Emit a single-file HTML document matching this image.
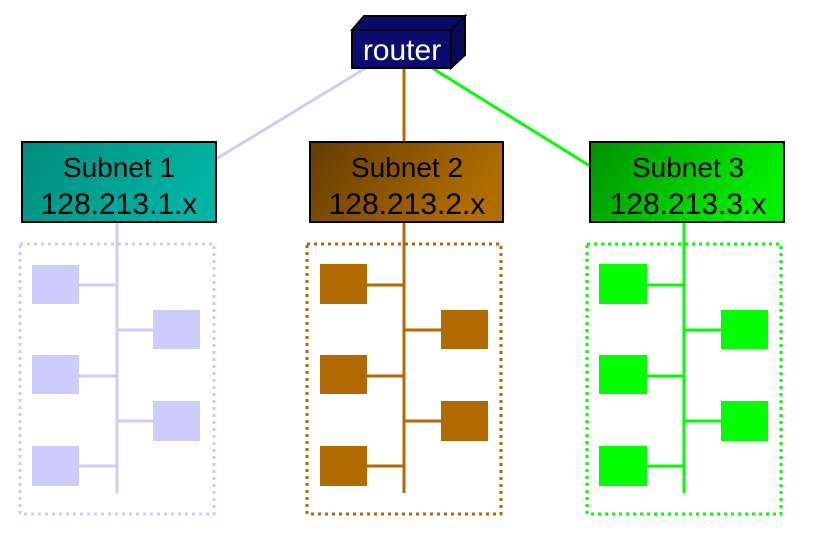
<!DOCTYPE html>
<html><head><style>body{margin:0;background:#fff}svg{display:block}</style></head><body>
<svg width="817" height="535" xmlns="http://www.w3.org/2000/svg" font-family="Liberation Sans, sans-serif">
<defs>
<linearGradient id="g1" x1="0" y1="0" x2="1" y2="0.3"><stop offset="0" stop-color="#008c7c"/><stop offset="1" stop-color="#00b4a4"/></linearGradient>
<linearGradient id="g2" x1="0" y1="0" x2="1" y2="0.3"><stop offset="0" stop-color="#643c00"/><stop offset="1" stop-color="#b06e00"/></linearGradient>
<linearGradient id="g3" x1="0" y1="0" x2="1" y2="0.3"><stop offset="0" stop-color="#009000"/><stop offset="1" stop-color="#00f000"/></linearGradient>
</defs>
<line x1="366" y1="68" x2="216" y2="159" stroke="#ccccff" stroke-width="3"/>
<line x1="404" y1="68" x2="404" y2="142" stroke="#b06a00" stroke-width="3"/>
<line x1="432" y1="68" x2="590" y2="166" stroke="#00ff00" stroke-width="3"/>
<polygon points="352,30 364,16 465,16 451,30" fill="#0a0a6a" stroke="#000" stroke-width="2"/>
<polygon points="451,30 465,16 465,55 451,68" fill="#08085a" stroke="#000" stroke-width="2"/>
<rect x="352" y="30" width="99" height="38" fill="#0c0c70" stroke="#000" stroke-width="2"/>
<text x="402" y="60" font-size="30" fill="#fff" text-anchor="middle">router</text>

<g stroke="#ccccff" fill="#ccccff">
<rect x="20" y="244" width="194" height="270" fill="none" stroke-width="3" stroke-dasharray="3 4"/>
<line x1="117" y1="222" x2="117" y2="493" stroke-width="3"/>
<line x1="79" y1="285" x2="117" y2="285" stroke-width="3"/>
<line x1="79" y1="376" x2="117" y2="376" stroke-width="3"/>
<line x1="79" y1="466" x2="117" y2="466" stroke-width="3"/>
<line x1="117" y1="330" x2="153" y2="330" stroke-width="3"/>
<line x1="117" y1="421" x2="153" y2="421" stroke-width="3"/>
<rect x="32" y="265" width="47" height="39" stroke="none"/>
<rect x="32" y="355" width="47" height="39" stroke="none"/>
<rect x="32" y="446" width="47" height="40" stroke="none"/>
<rect x="153" y="310" width="47" height="39" stroke="none"/>
<rect x="153" y="401" width="47" height="40" stroke="none"/>
</g>
<rect x="22" y="142" width="194" height="80" fill="url(#g1)" stroke="#000" stroke-width="2"/>
<text x="119" y="177" font-size="28" text-anchor="middle">Subnet 1</text>
<text x="119" y="214" font-size="30" text-anchor="middle">128.213.1.x</text>

<g stroke="#b06a00" fill="#b06a00">
<rect x="307" y="244" width="194" height="270" fill="none" stroke-width="3" stroke-dasharray="3 4"/>
<line x1="404" y1="222" x2="404" y2="493" stroke-width="3"/>
<line x1="366" y1="285" x2="404" y2="285" stroke-width="3"/>
<line x1="366" y1="376" x2="404" y2="376" stroke-width="3"/>
<line x1="366" y1="466" x2="404" y2="466" stroke-width="3"/>
<line x1="404" y1="330" x2="441" y2="330" stroke-width="3"/>
<line x1="404" y1="421" x2="441" y2="421" stroke-width="3"/>
<rect x="320" y="264" width="47" height="40" stroke="none"/>
<rect x="320" y="355" width="47" height="39" stroke="none"/>
<rect x="320" y="446" width="47" height="40" stroke="none"/>
<rect x="441" y="310" width="47" height="39" stroke="none"/>
<rect x="441" y="401" width="47" height="40" stroke="none"/>
</g>
<rect x="310" y="142" width="193" height="80" fill="url(#g2)" stroke="#000" stroke-width="2"/>
<text x="407" y="177" font-size="28" text-anchor="middle">Subnet 2</text>
<text x="407" y="214" font-size="30" text-anchor="middle">128.213.2.x</text>

<g stroke="#00ff00" fill="#00ff00">
<rect x="587" y="244" width="194" height="270" fill="none" stroke-width="3" stroke-dasharray="3 4"/>
<line x1="684" y1="222" x2="684" y2="493" stroke-width="3"/>
<line x1="646" y1="285" x2="684" y2="285" stroke-width="3"/>
<line x1="646" y1="376" x2="684" y2="376" stroke-width="3"/>
<line x1="646" y1="466" x2="684" y2="466" stroke-width="3"/>
<line x1="684" y1="330" x2="721" y2="330" stroke-width="3"/>
<line x1="684" y1="421" x2="721" y2="421" stroke-width="3"/>
<rect x="599" y="264" width="48" height="40" stroke="none"/>
<rect x="599" y="355" width="48" height="39" stroke="none"/>
<rect x="599" y="446" width="48" height="40" stroke="none"/>
<rect x="721" y="310" width="47" height="39" stroke="none"/>
<rect x="721" y="401" width="47" height="40" stroke="none"/>
</g>
<rect x="590" y="142" width="194" height="80" fill="url(#g3)" stroke="#000" stroke-width="2"/>
<text x="688" y="177" font-size="28" text-anchor="middle">Subnet 3</text>
<text x="688" y="214" font-size="30" text-anchor="middle">128.213.3.x</text>
</svg>
</body></html>
